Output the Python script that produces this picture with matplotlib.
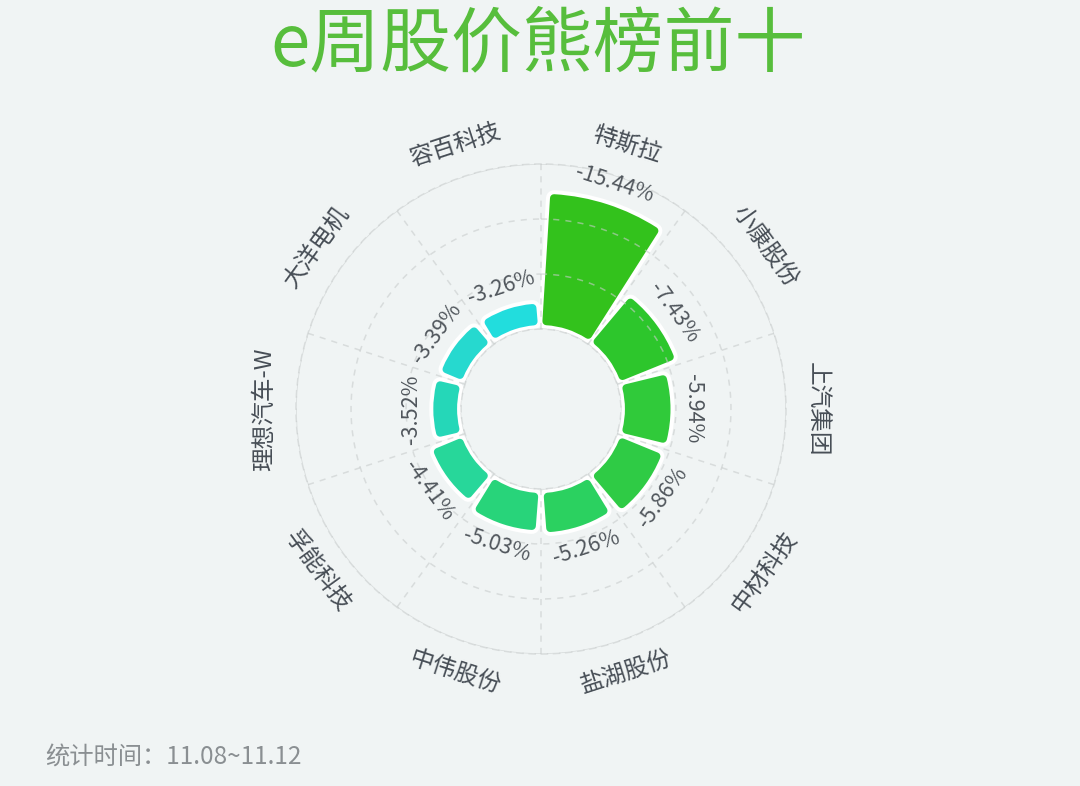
import numpy as np
import matplotlib
matplotlib.use("Agg")
import matplotlib.pyplot as plt

plt.rcParams['font.family'] = ['Noto Sans CJK SC', 'DejaVu Sans']

# ---- data ----
title = "e周股价熊榜前十"
footer = "统计时间：11.08~11.12"
categories = ['特斯拉', '小康股份', '上汽集团', '中材科技', '盐湖股份',
              '中伟股份', '孚能科技', '理想汽车-W', '大洋电机', '容百科技']
changes = [-15.44, -7.43, -5.94, -5.86, -5.26, -5.03, -4.41, -3.52, -3.39, -3.26]
bar_colors = ['#33C21C', '#2DC62C', '#30CA3A', '#2FCB45', '#2BD160',
              '#28D47A', '#27D79A', '#25D7B8', '#26D9CF', '#22DDDD']

# ---- style ----
BG = '#F0F4F4'
GRID_C = '#C8CCCC'
LABEL_C = '#474E56'
VALUE_C = '#50565C'

fig = plt.figure(figsize=(10.8, 7.86), dpi=100, facecolor=BG)

# polar axes centred at (541, 409) px, outer radius 245 px
cx, cy, R = 541, 409, 245
W, H = 1080, 786
ax = fig.add_axes([(cx - R) / W, (H - cy - R) / H, 2 * R / W, 2 * R / H],
                  projection='polar')
ax.set_facecolor('none')
ax.set_theta_zero_location('N')
ax.set_theta_direction(-1)

rmax = 18.3
rorigin = -8.86
ax.set_ylim(0, rmax)
ax.set_rorigin(rorigin)
k = R / (rmax - rorigin)          # pixels per data unit
r_inner_px = -rorigin * k         # pixel radius of value 0

n = len(categories)
step = 2 * np.pi / n
theta = np.arange(n) * step + step / 2
values = np.abs(np.array(changes))

# bars: shrunk geometry, then white halo stroke and round colour stroke
d_px = 8.0                         # shrink distance in pixels
s = d_px / k
for t, v, c in zip(theta, values, bar_colors):
    r_ref = r_inner_px + min(50.0, v * k / 2)
    dth = d_px / r_ref
    ax.bar(t, v - 2 * s, width=step - 2 * dth, bottom=s, color='white',
           edgecolor='white', linewidth=2 * d_px * 0.72, joinstyle='round',
           zorder=1.0)
    ax.bar(t, v - 2 * s, width=step - 2 * dth, bottom=s, color=c,
           edgecolor=c, linewidth=d_px * 0.72, joinstyle='round', zorder=1.2)

# grid
ax.set_xticks(np.arange(n) * step)
ax.set_yticks([0, 6.1, 12.2, rmax])
ax.set_xticklabels([])
ax.set_yticklabels([])
ax.tick_params(length=0)
ax.grid(True, color=GRID_C, alpha=0.6, linestyle=(0, (4, 4)), linewidth=1.1)
for sp in ax.spines.values():
    sp.set_color(GRID_C)
    sp.set_alpha(0.6)
    sp.set_linestyle((0, (4, 4)))
    sp.set_linewidth(1.1)


def tangential_rotation(a_deg):
    if a_deg <= 90:
        return -a_deg
    if a_deg < 270:
        return 180 - a_deg
    return 360 - a_deg


for t, v, c, lab in zip(theta, values, changes, categories):
    a = np.degrees(t)
    rot = tangential_rotation(a)
    ax.text(t, v + 2.0, f"{c:.2f}%", rotation=rot, rotation_mode='anchor',
            ha='center', va='center', fontsize=15.5, color=VALUE_C)
    ax.text(t, 21.8, lab, rotation=rot, rotation_mode='anchor',
            ha='center', va='center', fontsize=17, color=LABEL_C)

fig.text(538 / W, 1 - 45 / H, title, ha='center', va='center',
         fontsize=51, color='#57BE3C')
fig.text(45 / W, 1 - 758 / H, footer, ha='left', va='center',
         fontsize=17.5, color='#8A8F92')

fig.savefig('out.png', dpi=100, facecolor=BG)
